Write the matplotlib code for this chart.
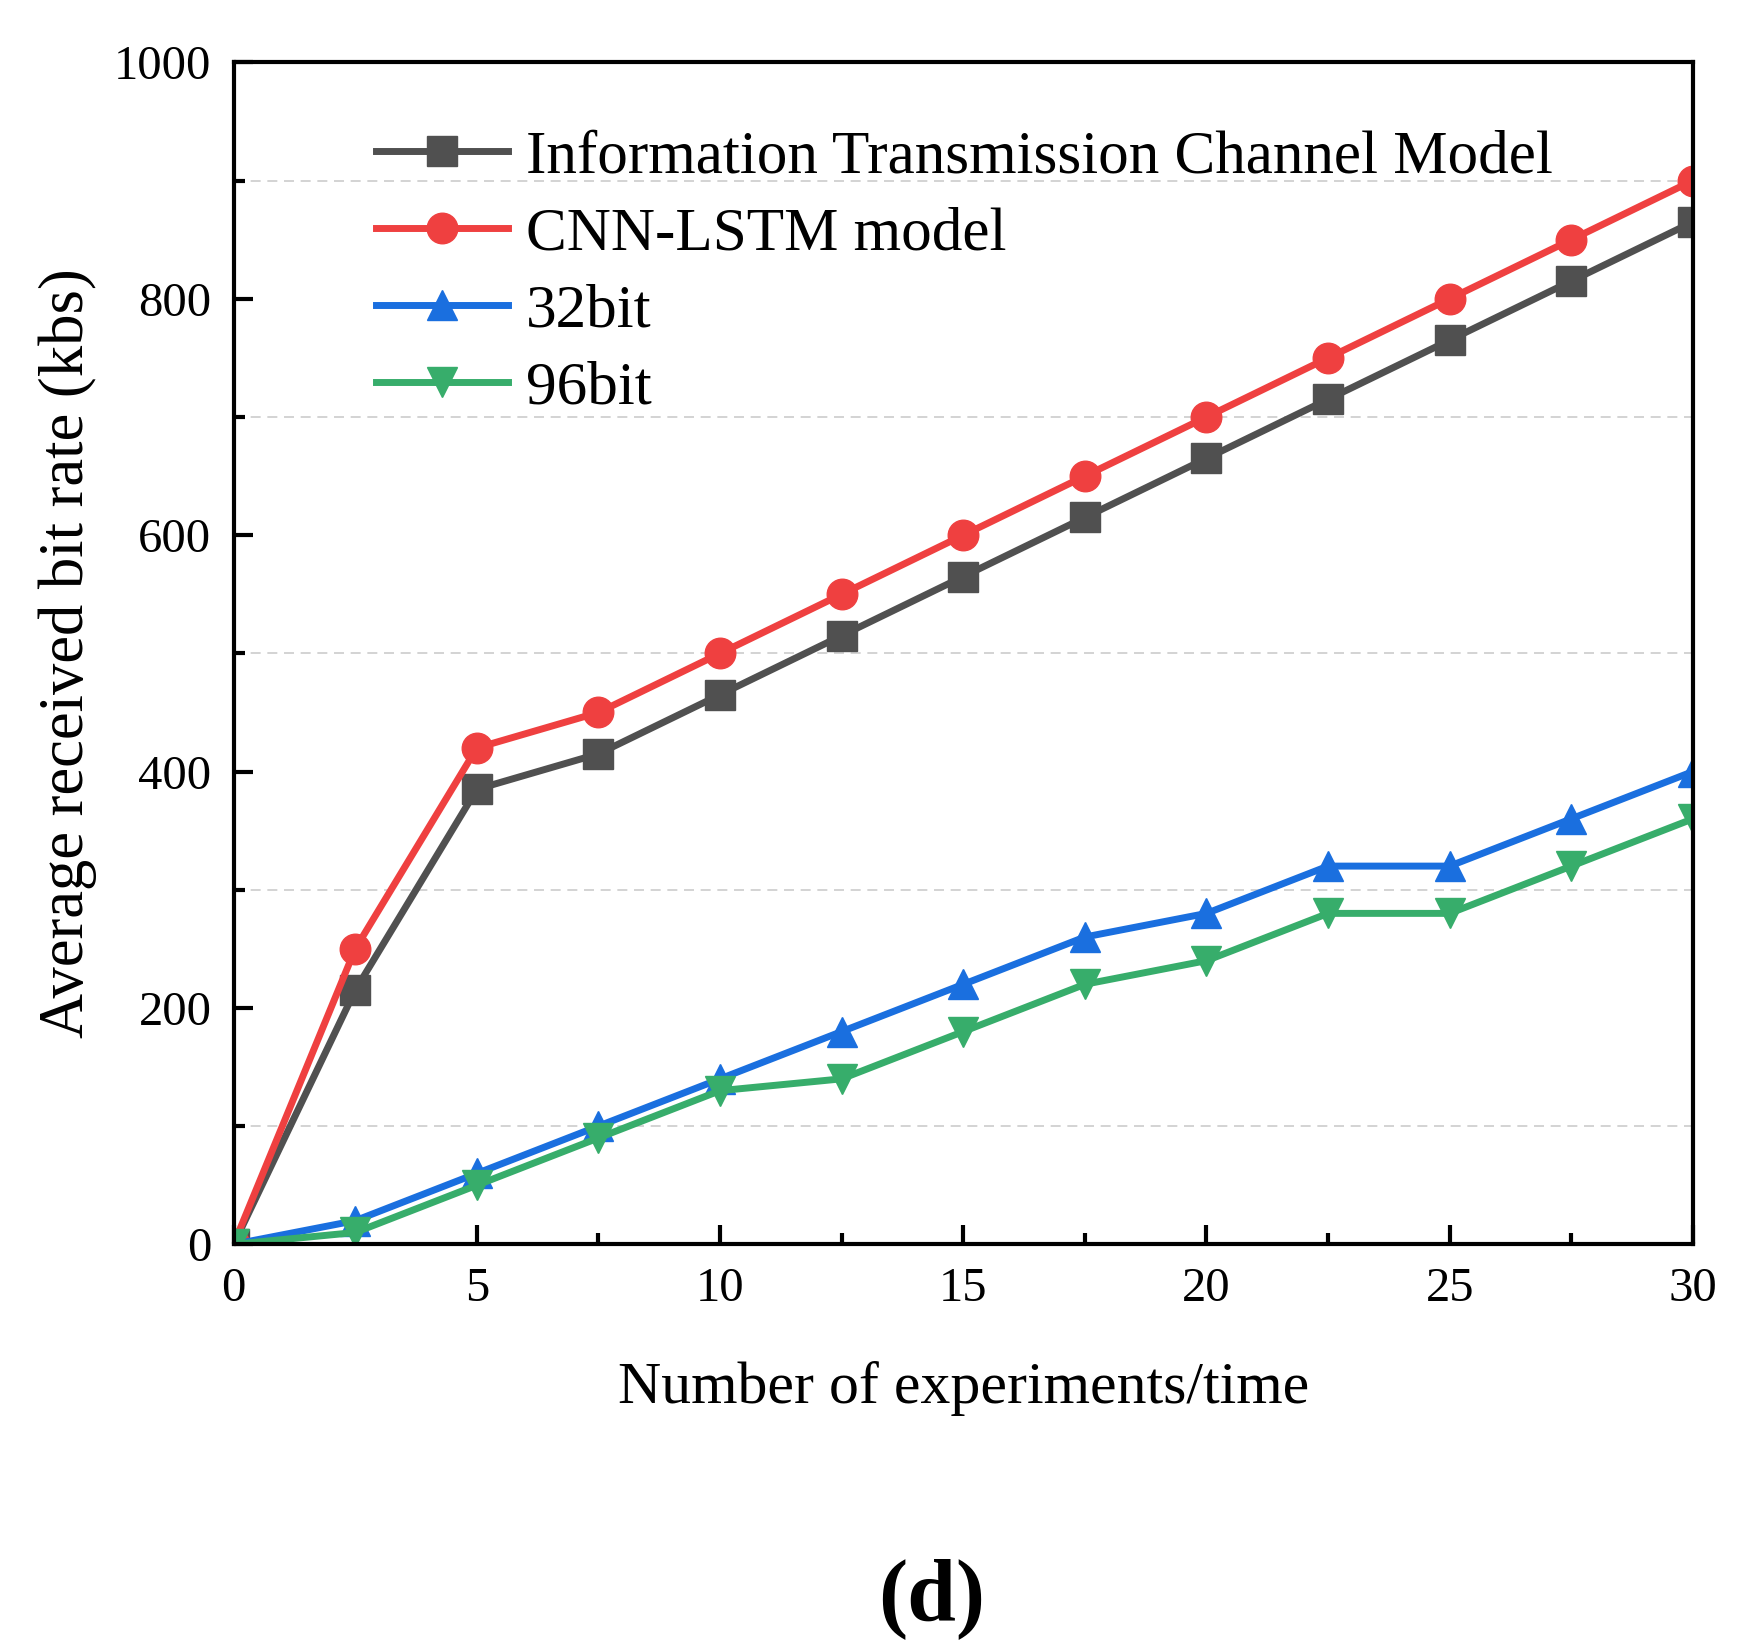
import numpy as np
import matplotlib
matplotlib.use('Agg')
import matplotlib.pyplot as plt
from matplotlib.ticker import MultipleLocator

plt.rcParams['font.family'] = ['Liberation Serif', 'DejaVu Serif']

# data
x = [0, 2.5, 5, 7.5, 10, 12.5, 15, 17.5, 20, 22.5, 25, 27.5, 30]
info_model = [0, 215, 385, 415, 465, 515, 565, 615, 665, 715, 765, 815, 865]
cnn_lstm = [0, 250, 420, 450, 500, 550, 600, 650, 700, 750, 800, 850, 900]
bit32 = [0, 20, 60, 100, 140, 180, 220, 260, 280, 320, 320, 360, 400]
bit96 = [0, 10, 50, 90, 130, 140, 180, 220, 240, 280, 280, 320, 360]

labels = ['Information Transmission Channel Model', 'CNN-LSTM model', '32bit', '96bit']
colors = ['#505050', '#EF4040', '#1A6FDF', '#37AD6B']
markers = ['s', 'o', '^', 'v']

fig = plt.figure(figsize=(17.57, 16.47), dpi=100)
ax = fig.add_axes([0.133, 0.2445, 0.8305, 0.7176])

for y, lab, c, m in zip([info_model, cnn_lstm, bit32, bit96], labels, colors, markers):
    ax.plot(x, y, color=c, marker=m, markersize=22, linewidth=5, label=lab)

ax.set_xlim(0, 30)
ax.set_ylim(0, 1000)
ax.xaxis.set_major_locator(MultipleLocator(5))
ax.xaxis.set_minor_locator(MultipleLocator(2.5))
ax.yaxis.set_major_locator(MultipleLocator(200))
ax.yaxis.set_minor_locator(MultipleLocator(100))
ax.grid(which='minor', axis='y', linestyle=(0, (6, 4)), color='#cccccc', linewidth=1.2)
ax.tick_params(which='major', direction='in', length=14, width=3, labelsize=35, pad=16)
ax.tick_params(which='minor', direction='in', length=8, width=3)
for s in ax.spines.values():
    s.set_linewidth(3)

ax.set_xlabel('Number of experiments/time', fontsize=43, labelpad=36)
ax.set_ylabel('Average received bit rate (kbs)', fontsize=45, labelpad=12)

ax.legend(loc='upper left', bbox_to_anchor=(0.06, 0.99), frameon=False, fontsize=44,
          handlelength=2.15, labelspacing=0.35, handletextpad=0.3)

fig.text(0.53, 0.005, '(d)', fontsize=63, fontweight='bold', ha='center', va='bottom')

fig.savefig('out.png', dpi=100)
